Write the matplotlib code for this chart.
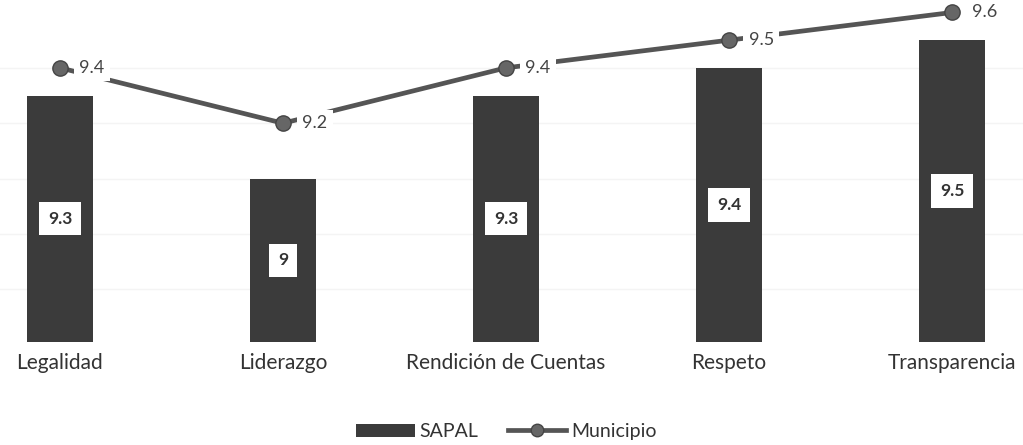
import matplotlib
matplotlib.use("Agg")
import matplotlib.pyplot as plt
from matplotlib.lines import Line2D
from matplotlib.patches import Patch

plt.rcParams['font.family'] = ['Lato', 'DejaVu Sans']

# data
categories = ["Legalidad", "Liderazgo", "Rendición de Cuentas", "Respeto", "Transparencia"]
sapal = [9.3, 9.0, 9.3, 9.4, 9.5]
municipio = [9.4, 9.2, 9.4, 9.5, 9.6]
sapal_labels = ["9.3", "9", "9.3", "9.4", "9.5"]
municipio_labels = ["9.4", "9.2", "9.4", "9.5", "9.6"]

ymin, ymax = 8.41, 9.645
x = list(range(len(categories)))

fig = plt.figure(figsize=(10.23, 4.45), dpi=100)
ax = fig.add_axes([0, 0.2315, 1, 0.7685])

# very faint gridlines (barely visible in the scan)
for g in [8.6, 8.8, 9.0, 9.2, 9.4]:
    ax.axhline(g, color='#f4f4f4', lw=1, zorder=0)

ax.bar(x, sapal, width=0.296, color='#3b3b3b', zorder=2)
for xi, v, lab in zip(x, sapal, sapal_labels):
    ax.text(xi, (v + ymin) / 2, lab, ha='center', va='center', fontsize=12.5,
            fontweight='bold', color='#333333', zorder=4,
            bbox=dict(boxstyle='square,pad=0.5', fc='white', ec='none'))

ax.plot(x, municipio, color='#555555', lw=3.4, marker='o', markersize=11,
        markerfacecolor='#666666', markeredgecolor='#444444', zorder=3)
for xi, v, lab in zip(x, municipio, municipio_labels):
    ax.annotate(lab, (xi, v), xytext=(14, 0), textcoords='offset points',
                ha='left', va='center', fontsize=13, color='#444444', zorder=4,
                bbox=dict(boxstyle='square,pad=0.3', fc='white', ec='none'))

ax.set_xlim(-0.269, 4.318)
ax.set_ylim(ymin, ymax)
for s in ax.spines.values():
    s.set_visible(False)
ax.set_yticks([])
ax.set_xticks(x)
ax.set_xticklabels(categories, fontsize=15, color='#333333')
ax.tick_params(axis='x', length=0, pad=8)

handles = [Patch(facecolor='#3b3b3b', edgecolor='none'),
           Line2D([0], [0], color='#555555', lw=3.4, marker='o', markersize=9,
                  markerfacecolor='#666666', markeredgecolor='#444444')]
fig.legend(handles, ["SAPAL", "Municipio"], loc='center', bbox_to_anchor=(0.495, 0.03),
           ncol=2, frameon=False, fontsize=14, handlelength=3.0, columnspacing=1.5,
           handletextpad=0.25, labelcolor='#333333')

fig.savefig('out.png', dpi=100)
